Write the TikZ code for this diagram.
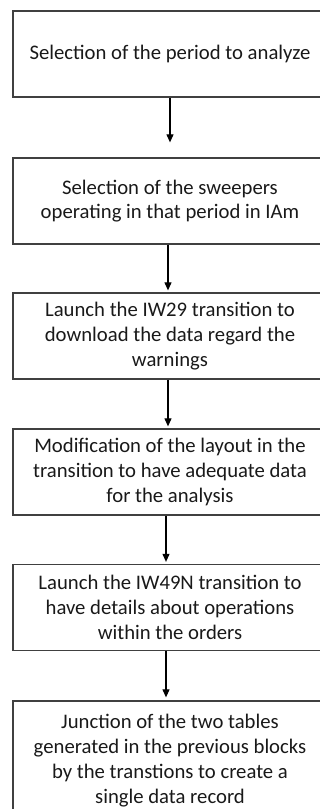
\documentclass[tikz,border=0pt]{standalone}
\usepackage{fontspec}
\setmainfont{Carlito}
\usetikzlibrary{arrows.meta}
\begin{document}
\begin{tikzpicture}[x=1pt,y=-1pt,
  stepbox/.style={draw=black!75, line width=1.3pt, minimum width=314pt,
    minimum height=86pt, align=center, text=black!90,
    font=\fontsize{20.7}{24.8}\selectfont, inner sep=0pt},
  flow/.style={draw=black, line width=1.1pt, -{Triangle[width=7pt,length=8pt]}}]
\useasboundingbox (0,0) rectangle (320,809);
\node[stepbox] (s1) at (170,54) {Selection of the period to analyze};
\node[stepbox] (s2) at (170,201) {Selection of the sweepers\\operating in that period in IAm};
\node[stepbox] (s3) at (170,336) {Launch the IW29 transition to\\download the data regard the\\warnings};
\node[stepbox] (s4) at (170,472) {Modification of the layout in the\\transition to have adequate data\\for the analysis};
\node[stepbox] (s5) at (170,607.5) {Launch the IW49N transition to\\have details about operations\\within the orders};
\node[stepbox, minimum height=119pt] (s6) at (170,760.5) {Junction of the two tables\\generated in the previous blocks\\by the transtions to create a\\single data record};
\draw[flow, shorten >=15pt] (s1.south) -- (s2.north);
\draw[flow, shorten >=2pt] ([xshift=-2pt]s2.south) -- ([xshift=-2pt]s3.north);
\draw[flow, shorten >=2pt] ([xshift=-2pt]s3.south) -- ([xshift=-2pt]s4.north);
\draw[flow, shorten >=2pt] ([xshift=-4pt]s4.south) -- ([xshift=-4pt]s5.north);
\draw[flow, shorten >=3pt] ([xshift=-4pt]s5.south) -- ([xshift=-4pt]s6.north);
\end{tikzpicture}
\end{document}
